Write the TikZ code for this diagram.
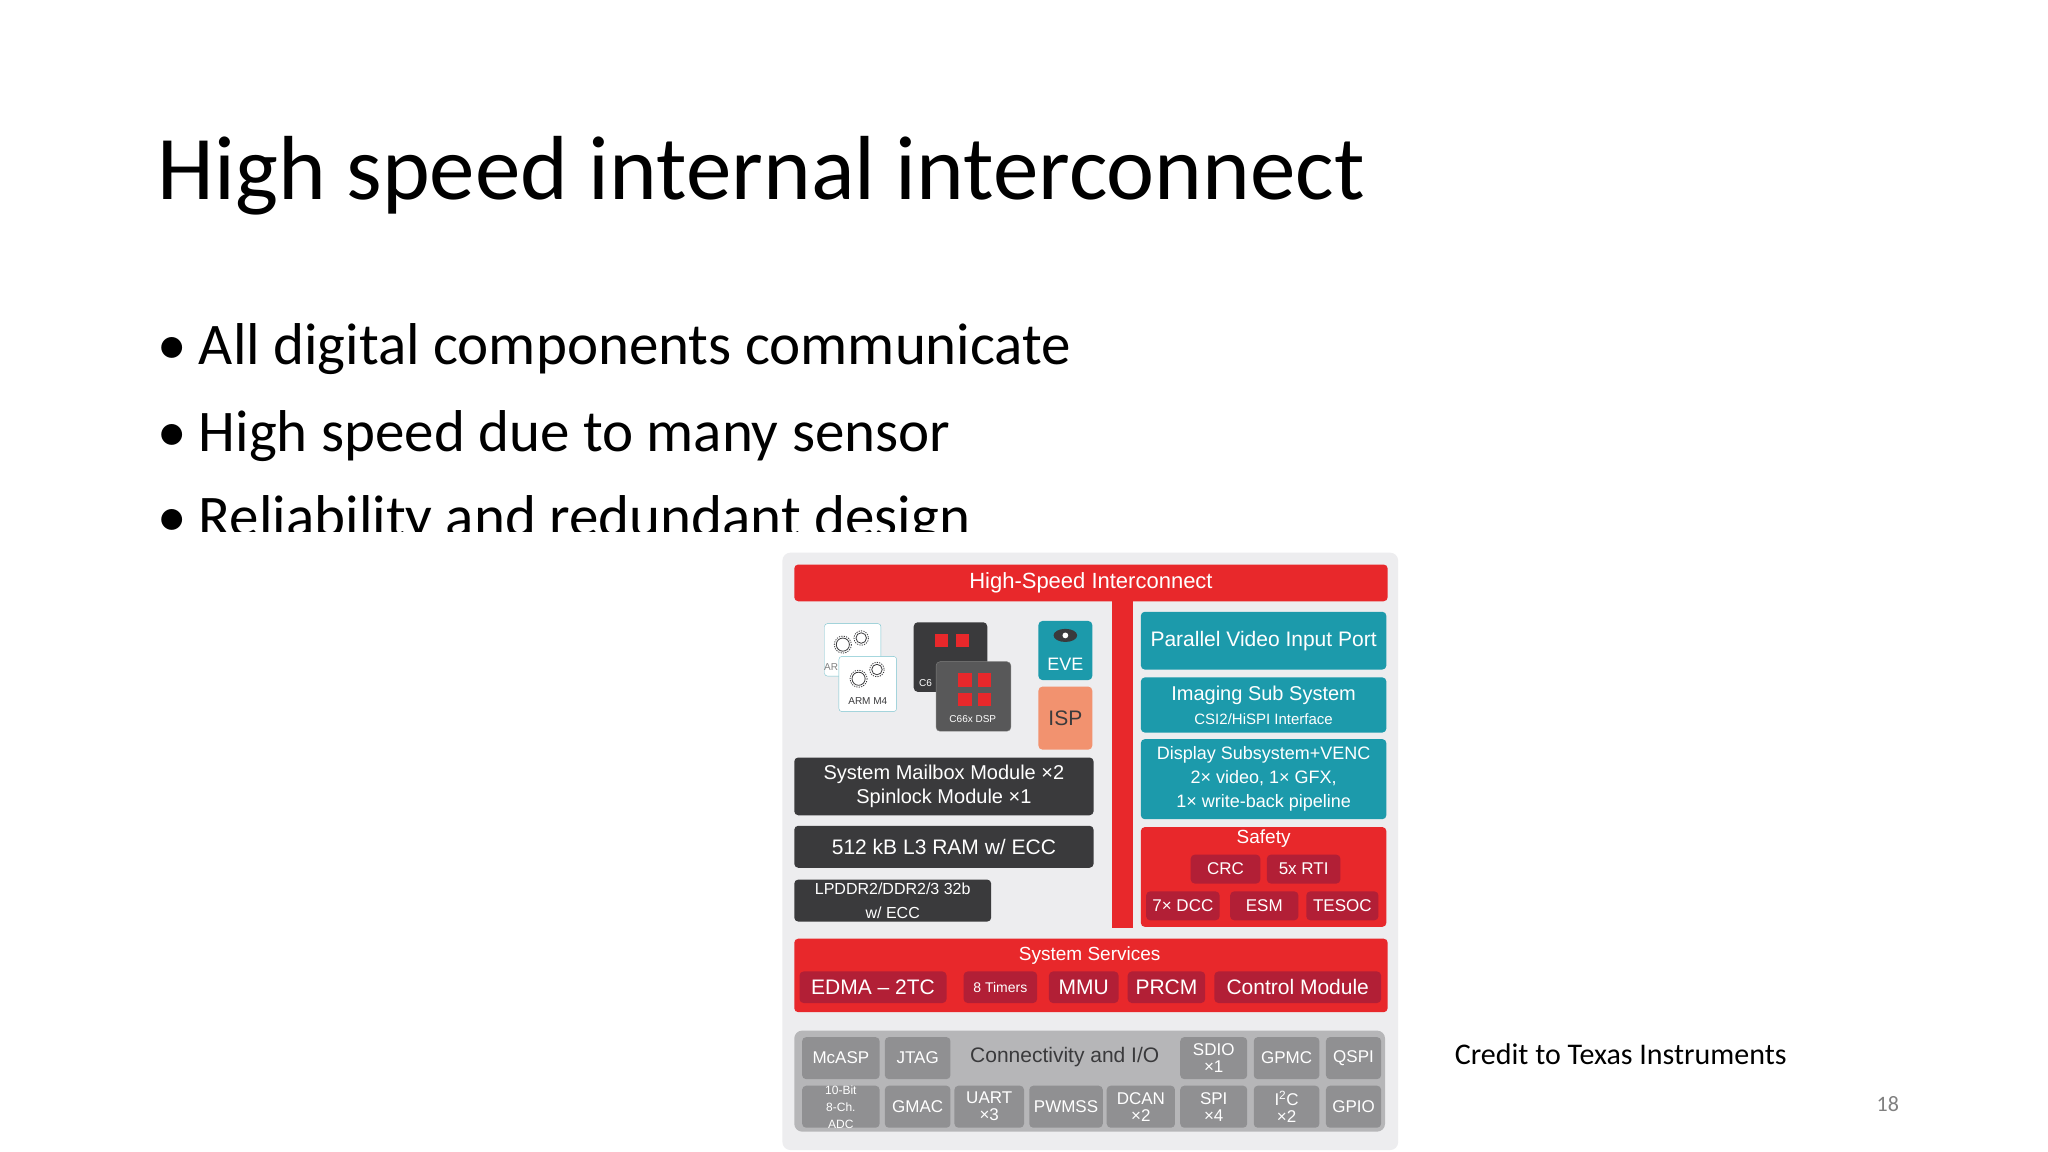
\documentclass[tikz,border=0pt]{standalone}
\usepackage{fontspec}
\setmainfont{Carlito}
\newfontfamily\arial{Liberation Sans}
\definecolor{tired}{HTML}{E8282B}
\definecolor{tidred}{HTML}{B21F36}
\definecolor{titeal}{HTML}{1C9AAB}
\definecolor{tidark}{HTML}{3A3A3C}
\definecolor{tibg}{HTML}{EDEDEF}
\definecolor{ticon}{HTML}{B6B6B8}
\definecolor{tibox}{HTML}{909092}
\definecolor{tisal}{HTML}{F2926F}
\newcommand\bx[7]{\fill[#6] (#2,#3) rectangle (#4,#5);
 \node[tx] (#1) at ({(#2+#4)/2},{(#3+#5)/2}) {#7};}
\newcommand\fs[1]{\fontsize{#1}{#1}\selectfont}
\tikzset{tx/.style={text=white,font=\arial\fontsize{21}{24}\selectfont,align=center,inner sep=0pt},
 rr/.style={rounded corners=4pt},
 redb/.style={rr,fill=tired}, drb/.style={rr,fill=tidred}, tlb/.style={rr,fill=titeal},
 dkb/.style={rr,fill=tidark}, gyb/.style={rr,fill=tibox}}
\begin{document}
\begin{tikzpicture}[x=1.3128pt,y=-1.3128pt]
\useasboundingbox (0,0) rectangle (1560,877.5);
\node[anchor=base west,inner sep=0pt,font=\fontsize{91}{100}\selectfont] (title) at (120,152) {High speed internal interconnect};
\begin{scope}[every node/.style={anchor=base west,inner sep=0pt,font=\fontsize{59}{66}\selectfont}]
\node (b1) at (120,278) {•\hspace{0.2em}All digital components communicate};
\node (b2) at (120,344) {•\hspace{0.2em}High speed due to many sensor};
\begin{scope}
\clip (0,300) rectangle (1560,405);
\node (b3) at (120,409) {•\hspace{0.2em}Reliability and redundant design};
\end{scope}
\end{scope}
% diagram
\fill[white] (590,405) rectangle (1070,877.5);
\fill[tibg,rounded corners=8pt] (596,421) rectangle (1065,876);
\bx{hsi}{605}{430}{1057}{458}{redb}{\fs{22}High-Speed Interconnect}
\fill[tired] (847,458) rectangle (863,707);
% ARM icons
\draw[titeal!60,fill=white,rounded corners=3pt] (628,475) rectangle (671,515);
\node[font=\arial\fontsize{10}{11}\selectfont,text=gray] (arm1) at (633,508) {AR};
\draw[titeal!60,fill=white,rounded corners=3pt] (639,500) rectangle (683,542);
\node[font=\arial\fontsize{10}{11}\selectfont,text=tidark] (arm2) at (661,534) {ARM M4};
\foreach \cx/\cy/\r in {642/491/5,656/486/4,654/517/5,668/510/4}{
 \draw[tidark,line width=0.8pt] (\cx,\cy) circle (\r);
 \draw[tidark,line width=0.8pt,dash pattern=on 1.2pt off 1.2pt] (\cx,\cy) circle (\r+1.5);}
% DSP icons
\fill[tidark,rounded corners=4pt] (696,474) rectangle (752,527);
\draw[gray,fill=tidark!85,rounded corners=4pt] (713,504) rectangle (770,557);
\node[font=\arial\fontsize{10}{11}\selectfont,text=white] (dsp1) at (705,520) {C6};
\node[font=\arial\fontsize{10}{11}\selectfont,text=white] (dsp2) at (741,548) {C66x DSP};
\foreach \cx/\cy in {717/488,733/488,735/518,750/518,735/533,750/533}{
 \fill[tired] (\cx-5,\cy-5) rectangle (\cx+5,\cy+5);}
\fill[titeal,rounded corners=4pt] (791,473) rectangle (832,518);
\node[tx,font=\arial\fs{18}] (eve) at (811.5,506) {EVE};
\fill[tidark] (811.5,484) ellipse (9 and 5); \fill[white] (811.5,484) circle (2.2);
\bx{isp}{791}{523}{832}{571}{rr,fill=tisal}{\color{tidark}\fs{21}ISP}
\bx{mbx}{605}{577}{833}{621}{dkb}{\fs{20}System Mailbox Module ×2\\\fs{20}Spinlock Module ×1}
\bx{l3}{605}{629}{833}{661}{dkb}{512 kB L3 RAM w/ ECC}
\bx{ddr}{605}{670}{755}{702}{dkb}{\fs{16}LPDDR2/DDR2/3 32b\\\fs{16}w/ ECC}
% right
\bx{pvi}{869}{466}{1056}{510}{tlb}{Parallel Video Input Port}
\bx{iss}{869}{516}{1056}{558}{tlb}{\fs{20}Imaging Sub System\\\fs{15}CSI2/HiSPI Interface}
\bx{dss}{869}{563}{1056}{624}{tlb}{\fs{18}Display Subsystem+VENC\\\fs{18}2× video, 1× GFX,\\\fs{18}1× write-back pipeline}
\fill[redb] (869,630) rectangle (1056,706);
\node[tx,font=\arial\fs{19}] (saf) at (962.5,639) {Safety};
\bx{crc}{907}{651}{960}{673}{drb}{\fs{17}CRC}
\bx{rti}{965}{651}{1021}{673}{drb}{\fs{17}5x RTI}
\bx{dcc}{873}{679}{929}{701}{drb}{\fs{17}7× DCC}
\bx{esm}{937}{679}{989}{701}{drb}{\fs{17}ESM}
\bx{tes}{995}{679}{1050}{701}{drb}{\fs{17}TESOC}
% system services
\fill[redb] (605,715) rectangle (1057,771);
\node[tx,font=\arial\fs{19}] (ss) at (830,728) {System Services};
\bx{edma}{609}{740}{721}{764}{drb}{EDMA – 2TC}
\bx{tim}{734}{740}{790}{764}{drb}{\fs{14}8 Timers}
\bx{mmu}{799}{740}{852}{764}{drb}{MMU}
\bx{prcm}{859}{740}{918}{764}{drb}{PRCM}
\bx{ctl}{925}{740}{1052}{764}{drb}{Control Module}
% connectivity
\fill[ticon,rounded corners=8pt] (605,785) rectangle (1055,862);
\node[tx,text=tidark,font=\arial\fs{21}] (con) at (811,805) {Connectivity and I/O};
\tikzset{tx/.append style={font=\arial\fs{17}}}
\bx{mca}{611}{790}{670}{822}{gyb}{McASP}
\bx{jtg}{674}{790}{724}{822}{gyb}{JTAG}
\bx{sdio}{899}{790}{950}{822}{gyb}{SDIO\\×1}
\bx{gpmc}{955}{790}{1005}{822}{gyb}{GPMC}
\bx{qspi}{1010}{790}{1052}{822}{gyb}{QSPI}
\bx{adc}{611}{827}{670}{859}{gyb}{\fs{12}10-Bit\\\fs{12}8-Ch.\\\fs{12}ADC}
\bx{gmac}{674}{827}{724}{859}{gyb}{GMAC}
\bx{uart}{727}{827}{780}{859}{gyb}{UART\\×3}
\bx{pwm}{784}{827}{840}{859}{gyb}{PWMSS}
\bx{dcan}{843}{827}{895}{859}{gyb}{DCAN\\×2}
\bx{spi}{899}{827}{950}{859}{gyb}{SPI\\×4}
\bx{i2c}{955}{827}{1005}{859}{gyb}{I\textsuperscript{2}C\\×2}
\bx{gpio}{1010}{827}{1052}{859}{gyb}{GPIO}
% footer
\node[anchor=base west,inner sep=0pt,font=\fontsize{30}{34}\selectfont] (cred) at (1108,811) {Credit to Texas Instruments};
\node[anchor=base,inner sep=0pt,text=gray,font=\fontsize{22}{24}\selectfont] (pg) at (1438,847) {18};
\end{tikzpicture}
\end{document}
